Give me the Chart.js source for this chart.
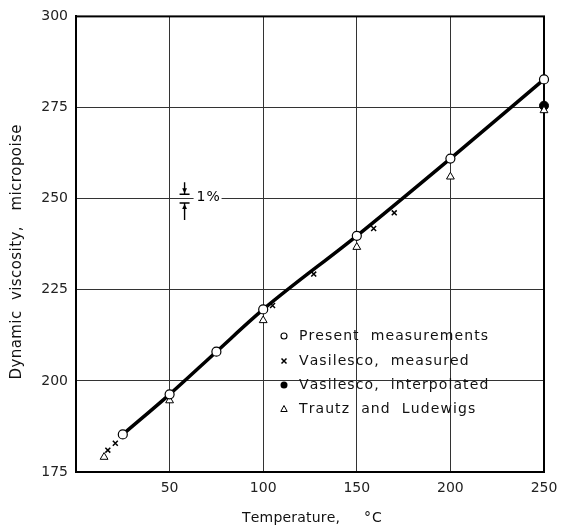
<!DOCTYPE html>
<html><head><meta charset="utf-8">
<script src="https://cdn.jsdelivr.net/npm/chart.js@4"></script>
<style>html,body{margin:0;padding:0;background:#fff}#wrap{width:566px;height:529px}</style>
</head><body><div id="wrap"><canvas id="c" width="566" height="529"></canvas></div>
<script>
// ---- data ----
const xTicks = [50, 100, 150, 200, 250];
const yTicks = [175, 200, 225, 250, 275, 300];
const presentT = [25, 50, 75, 100, 150, 200, 250];
const presentV = [185.3, 196.3, 208.0, 219.6, 239.8, 261.0, 282.7];
const vasMeasT = [17, 21, 105, 127, 159, 170];
const vasMeasV = [181.0, 182.9, 220.7, 229.3, 241.8, 246.1];
const vasInterpT = [250];
const vasInterpV = [275.5];
const trautzT = [15, 50, 100, 150, 200, 250];
const trautzV = [179.1, 194.6, 216.6, 236.7, 256.0, 274.2];
const curveT = [25, 50, 75, 100, 150, 200, 250];
const curveV = [185.3, 196.3, 208.0, 219.6, 239.8, 261.0, 282.7];
const legendLabels = ['Present  measurements', 'Vasilesco,  measured', 'Vasilesco,  interpolated', 'Trautz  and  Ludewigs'];
const xTitleMain = 'Temperature,';
const xTitleUnit = '°C';
const yTitle = 'Dynamic  viscosity,   micropoise';
const markText = '1%';

const pts = (xs, ys) => xs.map((x, i) => ({x: x, y: ys[i]}));
const FONT = "'DejaVu Sans', sans-serif";

function spacedWidth(ctx, text, sp) {
  let w = 0;
  for (const ch of text) w += ctx.measureText(ch).width + sp;
  return w - sp;
}
function drawSpaced(ctx, text, x, y, sp, align) {
  const w = spacedWidth(ctx, text, sp);
  let cx = align === 'center' ? x - w / 2 : (align === 'right' ? x - w : x);
  ctx.textAlign = 'left';
  for (const ch of text) { ctx.fillText(ch, cx, y); cx += ctx.measureText(ch).width + sp; }
}
function spacingFor(ctx, text, target) {
  const n = [...text].length - 1;
  return (target - spacedWidth(ctx, text, 0)) / n;
}

const overlay = {
  id: 'overlay',
  beforeDatasetsDraw(chart) {
    const ctx = chart.ctx, a = chart.chartArea;
    ctx.save();
    ctx.strokeStyle = '#000'; ctx.lineWidth = 2;
    ctx.strokeRect(a.left, a.top, a.right - a.left, a.bottom - a.top);
    // 1% marker
    const ys = chart.scales.y, xs = chart.scales.x;
    const mx = xs.getPixelForValue(58);
    const yU = ys.getPixelForValue(251.2), yL = ys.getPixelForValue(248.8);
    ctx.fillStyle = '#fff';
    ctx.fillRect(mx + 9, ys.getPixelForValue(250) - 8, 28, 16);
    ctx.strokeStyle = '#000'; ctx.lineWidth = 1.4;
    ctx.beginPath();
    ctx.moveTo(mx - 5, yU); ctx.lineTo(mx + 5, yU);
    ctx.moveTo(mx - 5, yL); ctx.lineTo(mx + 5, yL);
    ctx.moveTo(mx, yU - 12); ctx.lineTo(mx, yU);
    ctx.moveTo(mx, yL + 17); ctx.lineTo(mx, yL);
    ctx.stroke();
    ctx.fillStyle = '#000';
    ctx.beginPath();
    ctx.moveTo(mx - 2.4, yU - 6); ctx.lineTo(mx + 2.4, yU - 6); ctx.lineTo(mx, yU - 1); ctx.closePath(); ctx.fill();
    ctx.beginPath();
    ctx.moveTo(mx - 2.4, yL + 6); ctx.lineTo(mx + 2.4, yL + 6); ctx.lineTo(mx, yL + 1); ctx.closePath(); ctx.fill();
    ctx.font = '14px ' + FONT; ctx.textBaseline = 'middle';
    drawSpaced(ctx, markText, mx + 12, ys.getPixelForValue(250) - 1, 1, 'left');
    ctx.restore();
  },
  afterDraw(chart) {
    const ctx = chart.ctx;
    ctx.save();
    ctx.fillStyle = '#111'; ctx.strokeStyle = '#000';
    // legend
    ctx.font = '14px ' + FONT; ctx.textBaseline = 'middle';
    const sp = spacingFor(ctx, legendLabels[0], 189);
    const rows = [336, 361, 385, 409];
    const sx = 284, tx = 299;
    legendLabels.forEach((t, i) => drawSpaced(ctx, t, tx, rows[i], sp, 'left'));
    ctx.lineWidth = 1.1;
    ctx.beginPath(); ctx.arc(sx, rows[0], 3, 0, Math.PI * 2); ctx.fillStyle = '#fff'; ctx.fill(); ctx.stroke();
    ctx.beginPath();
    ctx.moveTo(sx - 2.5, rows[1] - 2.5); ctx.lineTo(sx + 2.5, rows[1] + 2.5);
    ctx.moveTo(sx + 2.5, rows[1] - 2.5); ctx.lineTo(sx - 2.5, rows[1] + 2.5);
    ctx.lineWidth = 1.5; ctx.stroke();
    ctx.fillStyle = '#000';
    ctx.beginPath(); ctx.arc(sx, rows[2], 3.5, 0, Math.PI * 2); ctx.fill();
    ctx.lineWidth = 1;
    ctx.beginPath(); ctx.moveTo(sx, rows[3] - 3.5); ctx.lineTo(sx + 3.2, rows[3] + 2.5); ctx.lineTo(sx - 3.2, rows[3] + 2.5); ctx.closePath(); ctx.stroke();
    // axis titles
    ctx.fillStyle = '#111';
    ctx.font = '14px ' + FONT; ctx.textBaseline = 'middle';
    drawSpaced(ctx, xTitleMain, 242, 518, spacingFor(ctx, xTitleMain, 98), 'left');
    drawSpaced(ctx, xTitleUnit, 364, 518, 1, 'left');
    ctx.translate(17, 252); ctx.rotate(-Math.PI / 2);
    ctx.font = '15px ' + FONT;
    drawSpaced(ctx, yTitle, 0, 0, spacingFor(ctx, yTitle, 255), 'center');
    ctx.restore();
  }
};

new Chart(document.getElementById('c'), {
  type: 'scatter',
  data: {
    datasets: [
      {label: 'Present measurements', data: pts(presentT, presentV), pointStyle: 'circle', pointRadius: 4.5,
       pointBackgroundColor: '#fff', pointBorderColor: '#000', pointBorderWidth: 1.2, order: 1, clip: false},
      {label: 'Vasilesco, measured', data: pts(vasMeasT, vasMeasV), pointStyle: 'crossRot', pointRadius: 3.5,
       pointBorderColor: '#000', pointBorderWidth: 1.5, order: 2, clip: false},
      {label: 'Vasilesco, interpolated', data: pts(vasInterpT, vasInterpV), pointStyle: 'circle', pointRadius: 4.5,
       pointBackgroundColor: '#000', pointBorderColor: '#000', pointBorderWidth: 1, order: 3, clip: false},
      {label: 'Trautz and Ludewigs', data: pts(trautzT, trautzV), pointStyle: 'triangle', pointRadius: 4.5,
       pointBackgroundColor: '#fff', pointBorderColor: '#000', pointBorderWidth: 1, order: 2, clip: false},
      {label: 'curve', type: 'line', data: pts(curveT, curveV), showLine: true, pointRadius: 0,
       borderColor: '#000', borderWidth: 3.5, cubicInterpolationMode: 'monotone', fill: false, order: 10}
    ]
  },
  options: {
    responsive: false, animation: false,
    layout: {padding: {top: 11, right: 22, left: 0, bottom: 0}},
    plugins: {legend: {display: false}, tooltip: {enabled: false}, title: {display: false}},
    scales: {
      x: {type: 'linear', min: 0, max: 250,
        afterBuildTicks: s => { s.ticks = xTicks.map(v => ({value: v})); },
        afterFit: s => { s.height = 57; },
        grid: {color: '#333', lineWidth: 1, drawTicks: false},
        border: {display: true, color: '#000', width: 2},
        ticks: {padding: 8, color: '#222', font: {family: FONT, size: 14}, maxRotation: 0}},
      y: {type: 'linear', min: 175, max: 300,
        afterBuildTicks: s => { s.ticks = yTicks.map(v => ({value: v})); },
        afterFit: s => { s.width = 76; },
        grid: {color: '#333', lineWidth: 1, drawTicks: false},
        border: {display: true, color: '#000', width: 2},
        ticks: {padding: 8, color: '#222', font: {family: FONT, size: 14}}}
    }
  },
  plugins: [overlay]
});
</script></body></html>
